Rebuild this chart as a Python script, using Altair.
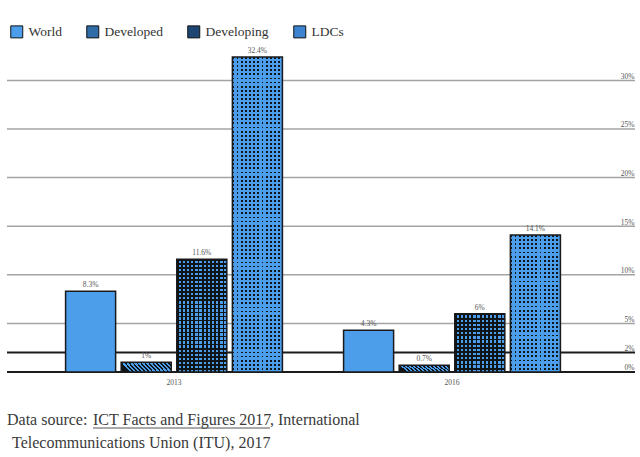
import altair as alt
import pandas as pd

# ---------------- data ----------------
years = ["2013", "2016"]
categories = ["World", "Developed", "Developing", "LDCs"]
values_2013 = [8.3, 1, 11.6, 32.4]
values_2016 = [4.3, 0.7, 6, 14.1]
y_ticks = [0, 2, 5, 10, 15, 20, 25, 30]
grid_lines = [5, 10, 15, 20, 25, 30]
dark_lines = [0, 2]
footer_line1 = ["Data source: ", "ICT Facts and Figures 2017", ", International"]
footer_line2 = ["Telecommunications Union (ITU), 2017"]

rows = []
for yr, vals in zip(years, [values_2013, values_2016]):
    for c, v in zip(categories, vals):
        rows.append({"year": yr, "category": c, "value": v})
df = pd.DataFrame(rows)

# ---------------- style ----------------
SERIF = "Liberation Serif"
BLUE = "#4C9EEB"
DARK = "#0f1419"
CLEAR = "rgba(0,0,0,0)"
legend_colors = ["#4C9EEB", "#2F6CA8", "#1E4672", "#3C84CF"]

PX_PER_UNIT = 9.72
Y_MAX = 34
W = 628
H = Y_MAX * PX_PER_UNIT
TOP = 41.5


def stripes(n, frac, on, off, x1, y1, x2, y2):
    stops = []
    for i in range(n):
        a = round(i / n, 5)
        m = round(min(1.0, (i + frac) / n), 5)
        b = round(min(1.0, (i + 1) / n), 5)
        stops += [
            alt.GradientStop(color=on, offset=a),
            alt.GradientStop(color=on, offset=m),
            alt.GradientStop(color=off, offset=m),
            alt.GradientStop(color=off, offset=b),
        ]
    return alt.LinearGradient(gradient="linear", stops=stops, x1=x1, y1=y1, x2=x2, y2=y2)


x_enc = alt.X(
    "year:N",
    scale=alt.Scale(range=[28, 584], paddingInner=0.2, paddingOuter=0.1),
    axis=alt.Axis(title=None, labelAngle=0, domain=False, ticks=False, tickSize=0, grid=False,
                  labelPadding=7, labelFontSize=7.5, labelColor="#555", labelFont=SERIF),
)
xo_enc = alt.XOffset("category:N", scale=alt.Scale(domain=categories, paddingInner=0.1, paddingOuter=0.05))
y_enc = alt.Y(
    "value:Q",
    scale=alt.Scale(domain=[0, Y_MAX], nice=False, zero=True),
    axis=alt.Axis(title=None, orient="right", values=y_ticks, grid=False,
                  domain=False, ticks=False, tickSize=0, labelAlign="right",
                  labelBaseline="bottom", labelPadding=-1,
                  labelExpr="datum.value + '%'", labelFontSize=7.5, labelColor="#555",
                  labelFont=SERIF),
)

base = alt.Chart(df)

grid = alt.Chart(pd.DataFrame({"value": grid_lines})).mark_rule(
    color="#a3a3a3", strokeWidth=1.5
).encode(y=y_enc)
rules = alt.Chart(pd.DataFrame({"value": dark_lines})).mark_rule(
    color="#1c1c1c", strokeWidth=2
).encode(y=y_enc)

bars = base.mark_bar().encode(
    x=x_enc, xOffset=xo_enc, y=y_enc,
    color=alt.Color("category:N", scale=alt.Scale(domain=categories, range=legend_colors),
                    legend=alt.Legend(title=None, orient="none", legendX=3, legendY=-16.5,
                                      direction="horizontal", columnPadding=22,
                                      symbolType="square", symbolSize=144,
                                      symbolStrokeColor="#111", symbolStrokeWidth=1,
                                      labelFont=SERIF, labelFontSize=13.5, labelColor="#333",
                                      labelOffset=5)),
)

layers = [grid, rules, bars]

# Developed: diagonal stripes
layers.append(
    base.transform_filter(alt.datum.category == "Developed").mark_bar(
        fill=stripes(13, 0.45, DARK, BLUE, 0, 0.17, 1, 0)
    ).encode(x=x_enc, xOffset=xo_enc, y=y_enc)
)
# Developing: vertical (opaque) part of blue squares on dark
layers.append(
    base.transform_filter(alt.datum.category == "Developing").mark_bar(
        fill=stripes(12, 0.42, DARK, BLUE, 0, 0, 1, 0)
    ).encode(x=x_enc, xOffset=xo_enc, y=y_enc)
)
# LDCs: vertical (opaque) part of dark dots on blue
layers.append(
    base.transform_filter(alt.datum.category == "LDCs").mark_bar(
        fill=stripes(12, 0.45, DARK, BLUE, 0, 0, 1, 0)
    ).encode(x=x_enc, xOffset=xo_enc, y=y_enc)
)
# horizontal parts, one per bar (period depends on bar height)
for r in rows:
    if r["category"] not in ("Developing", "LDCs"):
        continue
    n = max(1, round(r["value"] * PX_PER_UNIT / 4.1))
    if r["category"] == "Developing":
        grad = stripes(n, 0.42, DARK, CLEAR, 0, 0, 0, 1)
    else:
        grad = stripes(n, 0.45, CLEAR, BLUE, 0, 0, 0, 1)
    layers.append(
        base.transform_filter(
            (alt.datum.category == r["category"]) & (alt.datum.year == r["year"])
        ).mark_bar(fill=grad).encode(x=x_enc, xOffset=xo_enc, y=y_enc)
    )

outline = base.mark_bar(fillOpacity=0, stroke="#1a1a1a", strokeWidth=1.5).encode(
    x=x_enc, xOffset=xo_enc, y=y_enc
)
labels = base.transform_calculate(lbl="datum.value + '%'").mark_text(
    dy=-4, baseline="alphabetic", fontSize=7.5, font=SERIF, color="#555"
).encode(x=x_enc, xOffset=xo_enc, y=y_enc, text="lbl:N")
layers += [outline, labels]

# footer
foot_x = [0, 86, 263]
for txt, fx in zip(footer_line1, foot_x):
    layers.append(
        alt.Chart(pd.DataFrame({"t": [txt]})).mark_text(
            align="left", baseline="alphabetic", font=SERIF, fontSize=16, color="#3a3a3a"
        ).encode(text="t:N", x=alt.value(fx), y=alt.value(383.5))
    )
layers.append(
    alt.Chart(pd.DataFrame({"t": footer_line2})).mark_text(
        align="left", baseline="alphabetic", font=SERIF, fontSize=16, color="#3a3a3a"
    ).encode(text="t:N", x=alt.value(5), y=alt.value(406.5))
)
layers.append(
    alt.Chart(pd.DataFrame({"t": [footer_line1[1]]})).mark_rule(color="#555", strokeWidth=1).encode(
        x=alt.value(86), x2=alt.value(263), y=alt.value(386.5)
    )
)

chart = alt.layer(*layers).properties(
    width=W, height=H,
    background="white",
    autosize=alt.AutoSizeParams(type="none"),
    padding={"left": 7, "top": TOP, "right": 5, "bottom": 457 - TOP - H},
).configure_view(strokeWidth=0)

chart.save("out.html", embed_options={"renderer": "svg", "actions": False})
